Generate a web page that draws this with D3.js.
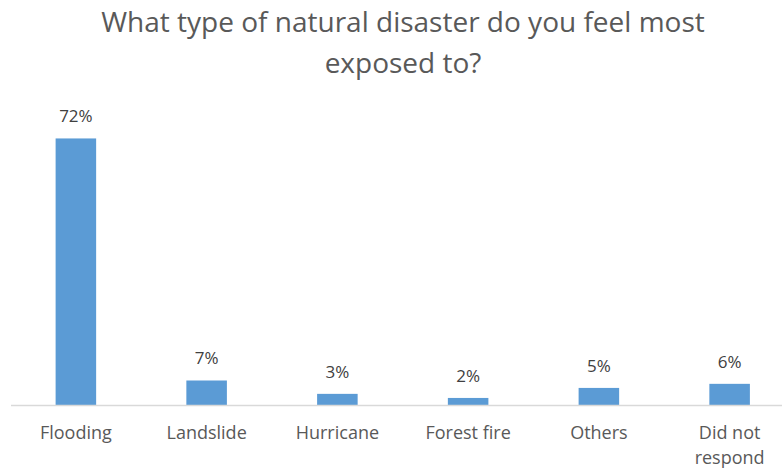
<!DOCTYPE html>
<html>
<head>
<meta charset="utf-8">
<script src="https://cdn.jsdelivr.net/npm/d3@7"></script>
<style>
  body { margin: 0; background: #fff; }
  text { font-family: "Open Sans", sans-serif; }
</style>
</head>
<body>
<div id="chart"></div>
<script>
// survey answers
const categories = ["Flooding", "Landslide", "Hurricane", "Forest fire", "Others", "Did not respond"];
const shares = [71.8, 6.6, 3.0, 1.9, 4.6, 5.7];
const titleLines = ["What type of natural disaster do you feel most", "exposed to?"];

const width = 782, height = 468;
const baseY = 405;

const svg = d3.select("#chart")
  .append("svg")
  .attr("width", width)
  .attr("height", height);

const x = d3.scaleBand()
  .domain(categories)
  .range([10.5, 795])
  .paddingInner(0.69)
  .paddingOuter(0.345);

const y = d3.scaleLinear()
  .domain([0, 80])
  .range([baseY, 108]);

// title
svg.append("text")
  .attr("text-anchor", "middle")
  .attr("fill", "#595959")
  .style("font-size", "28px")
  .selectAll("tspan")
  .data(titleLines)
  .enter()
  .append("tspan")
  .attr("x", 403)
  .attr("y", (d, i) => 32 + i * 41)
  .text(d => d);

// bars
svg.selectAll("rect.bar")
  .data(shares)
  .enter()
  .append("rect")
  .attr("class", "bar")
  .attr("x", (d, i) => x(categories[i]))
  .attr("width", x.bandwidth())
  .attr("y", d => y(d))
  .attr("height", d => baseY - y(d))
  .attr("fill", "#5b9bd5");

// axis line
svg.append("line")
  .attr("x1", 11)
  .attr("x2", 782)
  .attr("y1", baseY + 0.5)
  .attr("y2", baseY + 0.5)
  .attr("stroke", "#d9d9d9")
  .attr("stroke-width", 1.5);

// value labels
svg.selectAll("text.value")
  .data(shares)
  .enter()
  .append("text")
  .attr("class", "value")
  .attr("text-anchor", "middle")
  .attr("x", (d, i) => x(categories[i]) + x.bandwidth() / 2)
  .attr("y", d => y(d) - 16)
  .attr("fill", "#404040")
  .style("font-size", "17px")
  .text(d => Math.round(d) + "%");

// category labels, long one wraps onto two lines
const catLabels = svg.selectAll("text.cat")
  .data(categories)
  .enter()
  .append("text")
  .attr("class", "cat")
  .attr("text-anchor", "middle")
  .attr("fill", "#595959")
  .style("font-size", "18px");

catLabels.each(function (d) {
  const words = d === "Did not respond" ? ["Did not", "respond"] : [d];
  const cx = x(d) + x.bandwidth() / 2;
  d3.select(this).selectAll("tspan")
    .data(words)
    .enter()
    .append("tspan")
    .attr("x", cx)
    .attr("y", (w, i) => 439 + i * 25)
    .text(w => w);
});
</script>
</body>
</html>
